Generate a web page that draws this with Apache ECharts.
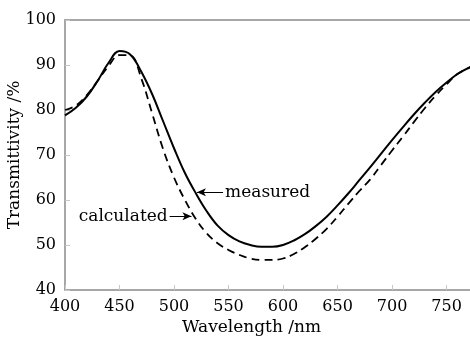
<!DOCTYPE html>
<html><head><meta charset="utf-8">
<script src="https://cdn.jsdelivr.net/npm/echarts@6/dist/echarts.min.js"></script>
<style>html,body{margin:0;padding:0;background:#fff}#c{width:470px;height:338px}</style>
</head><body><div id="c"></div>
<script>
const wavelengths = [400,410,420,430,440,450,460,470,480,490,500,510,520,530,540,550,560,570,580,590,600,610,620,630,640,650,660,670,680,690,700,710,720,730,740,750,760,772];
const measured =   [78.8,80.5,83.0,86.5,90.5,93.1,92.3,88.5,83.5,77.5,71.5,66.0,61.5,57.5,54.3,52.2,50.8,50.0,49.6,49.6,50.0,51.0,52.4,54.2,56.3,58.8,61.5,64.4,67.3,70.3,73.3,76.2,79.0,81.6,84.0,86.1,88.0,89.6];
const calculated = [80.0,81.0,83.3,86.5,89.8,92.2,92.1,87.0,79.2,71.3,65.0,60.0,55.8,52.6,50.4,48.9,47.8,47.0,46.7,46.7,47.0,48.0,49.5,51.4,53.6,56.3,59.2,62.0,64.6,67.8,71.0,74.1,77.3,80.4,83.2,85.7,88.0,89.5];
const xTicks = {min:400, max:771.5, interval:50};
const yTicks = {min:40, max:100, interval:10};
const font = 'DejaVu Serif';
const chart = echarts.init(document.getElementById('c'));
const pair = (xs, ys) => xs.map((x,i)=>[x, ys[i]]);
const axisGrey = '#8a8a8a';
chart.setOption({
  animation:false,
  grid:{left:65, top:20, right:0, bottom:48, containLabel:false, outerBoundsMode:'none'},
  xAxis:[{
    type:'value', min:xTicks.min, max:xTicks.max, interval:xTicks.interval,
    axisLine:{show:true, lineStyle:{color:axisGrey, width:1.5}},
    axisTick:{show:true, inside:true, length:5, lineStyle:{color:'#c8c8c8'}},
    axisLabel:{showMaxLabel:false, color:'#000', fontFamily:font, fontSize:16, margin:9},
    splitLine:{show:false}
  },{
    type:'value', position:'top', min:xTicks.min, max:xTicks.max,
    axisLine:{show:true, lineStyle:{color:axisGrey, width:1.5}},
    axisTick:{show:false}, axisLabel:{show:false}, splitLine:{show:false}
  }],
  yAxis:{
    type:'value', min:yTicks.min, max:yTicks.max, interval:yTicks.interval,
    name:'Transmittivity /%', nameLocation:'middle', nameGap:42, nameMoveOverlap:false,
    nameTextStyle:{color:'#000', fontFamily:font, fontSize:17},
    axisLine:{show:true, lineStyle:{color:axisGrey, width:1.5}},
    axisTick:{show:true, inside:true, length:5, lineStyle:{color:'#c8c8c8'}},
    axisLabel:{color:'#000', fontFamily:font, fontSize:16, margin:9},
    splitLine:{show:false}
  },
  graphic:[{type:'text', left:182, bottom:2, style:{text:'Wavelength /nm', fill:'#000', font:'17px "DejaVu Serif"'}}],
  series:[{
    type:'line', data:pair(wavelengths, measured), smooth:0.4, symbol:'none',
    lineStyle:{color:'#000', width:2},
    markLine:{silent:true, symbol:['none','arrow'], symbolSize:[6,9], animation:false,
      lineStyle:{color:'#000', width:1, type:'solid'},
      label:{show:true, position:'start', formatter:'measured', color:'#000', fontFamily:font, fontSize:17, distance:2},
      data:[[{coord:[545,61.7]},{coord:[521,61.7]}]]}
  },{
    type:'line', data:pair(wavelengths, calculated), smooth:0.4, symbol:'none',
    lineStyle:{color:'#000', width:1.8, type:[8,5]},
    markLine:{silent:true, symbol:['none','arrow'], symbolSize:[6,9], animation:false,
      lineStyle:{color:'#000', width:1, type:'solid'},
      label:{show:true, position:'start', formatter:'calculated', color:'#000', fontFamily:font, fontSize:17, distance:2},
      data:[[{coord:[496,56.4]},{coord:[516,56.4]}]]}
  }]
});
</script></body></html>
